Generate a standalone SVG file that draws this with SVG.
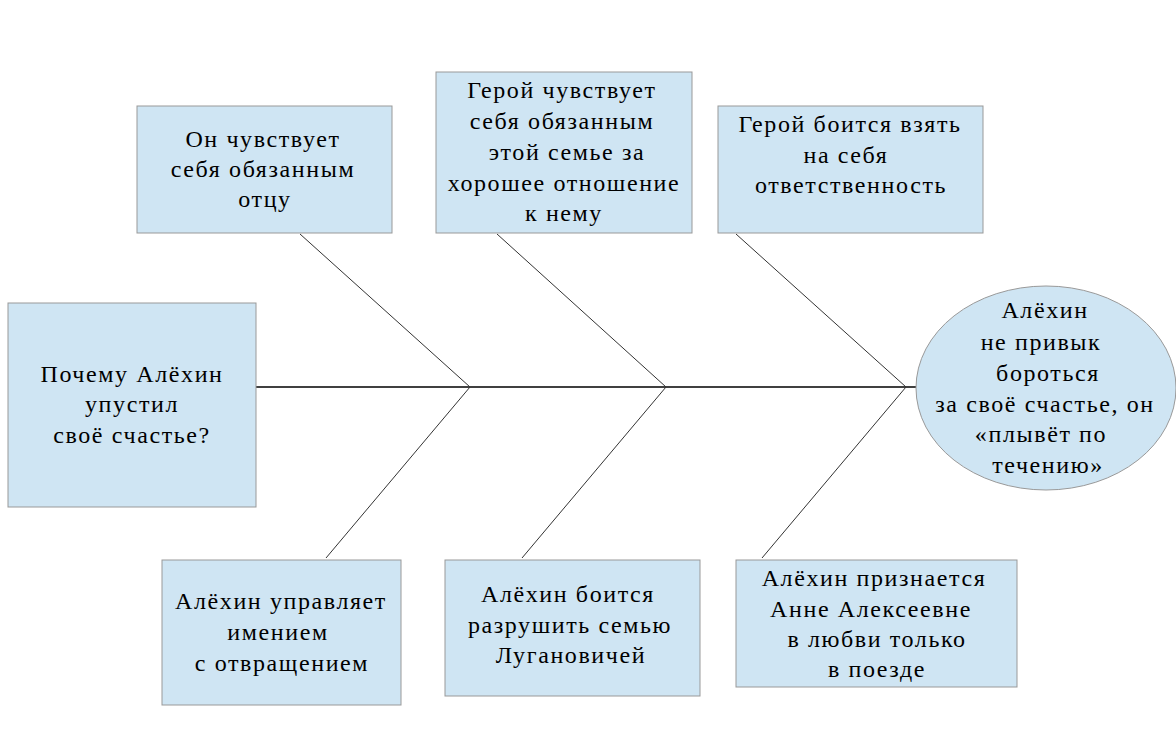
<svg xmlns="http://www.w3.org/2000/svg" width="1176" height="739" viewBox="0 0 1176 739">
<style>
.box{fill:#cfe5f3;stroke:#999;stroke-width:1}
.t{text-anchor:middle;fill:#000}
.c{stroke:#333;stroke-width:1;fill:none}
.spine{stroke:#000;stroke-width:1.5;fill:none}
</style>
<rect width="1176" height="739" fill="#fff"/>
<g id="connectors">
<line class="spine" x1="256" y1="387" x2="916" y2="387"/>
<line class="c" x1="300" y1="234" x2="470" y2="387"/>
<line class="c" x1="326" y1="558" x2="470" y2="387"/>
<line class="c" x1="497" y1="234" x2="666" y2="387"/>
<line class="c" x1="522" y1="558" x2="666" y2="387"/>
<line class="c" x1="736" y1="234" x2="906" y2="387"/>
<line class="c" x1="762" y1="558" x2="906" y2="387"/>
</g>
<g font-family="Liberation Serif, Times New Roman, serif" font-size="24" letter-spacing="1.6">
<g id="head">
<rect class="box" x="8" y="303" width="248" height="204"/>
<text class="t" x="132" y="382">Почему Алёхин</text>
<text class="t" x="132" y="412">упустил</text>
<text class="t" x="132" y="443">своё счастье?</text>
</g>
<g id="cause1">
<rect class="box" x="137" y="106" width="255" height="127"/>
<text class="t" x="263" y="147">Он чувствует</text>
<text class="t" x="263" y="177">себя обязанным</text>
<text class="t" x="265" y="207">отцу</text>
</g>
<g id="cause2">
<rect class="box" x="436" y="72" width="256" height="161"/>
<text class="t" x="562" y="98">Герой чувствует</text>
<text class="t" x="562" y="129">себя обязанным</text>
<text class="t" x="567" y="160">этой семье за</text>
<text class="t" x="564" y="191">хорошее отношение</text>
<text class="t" x="564" y="221">к нему</text>
</g>
<g id="cause3">
<rect class="box" x="718" y="106" width="265" height="127"/>
<text class="t" x="850" y="132">Герой боится взять</text>
<text class="t" x="846" y="163">на себя</text>
<text class="t" x="851" y="193">ответственность</text>
</g>
<g id="effect">
<ellipse class="box" cx="1046" cy="388" rx="130" ry="102"/>
<text class="t" x="1045" y="318">Алёхин</text>
<text class="t" x="1041" y="350">не привык</text>
<text class="t" x="1048" y="381">бороться</text>
<text class="t" x="1045" y="412">за своё счастье, он</text>
<text class="t" x="1041" y="442">«плывёт по</text>
<text class="t" x="1048" y="473">течению»</text>
</g>
<g id="cause4">
<rect class="box" x="162" y="560" width="239" height="145"/>
<text class="t" x="281" y="609">Алёхин управляет</text>
<text class="t" x="278" y="640">имением</text>
<text class="t" x="282" y="671">с отвращением</text>
</g>
<g id="cause5">
<rect class="box" x="445" y="560" width="255" height="136"/>
<text class="t" x="568" y="602">Алёхин боится</text>
<text class="t" x="570" y="633">разрушить семью</text>
<text class="t" x="571" y="663">Лугановичей</text>
</g>
<g id="cause6">
<rect class="box" x="736" y="560" width="281" height="127"/>
<text class="t" x="874" y="586">Алёхин признается</text>
<text class="t" x="871" y="617">Анне Алексеевне</text>
<text class="t" x="877" y="647">в любви только</text>
<text class="t" x="877" y="677">в поезде</text>
</g>
</g>
</svg>
